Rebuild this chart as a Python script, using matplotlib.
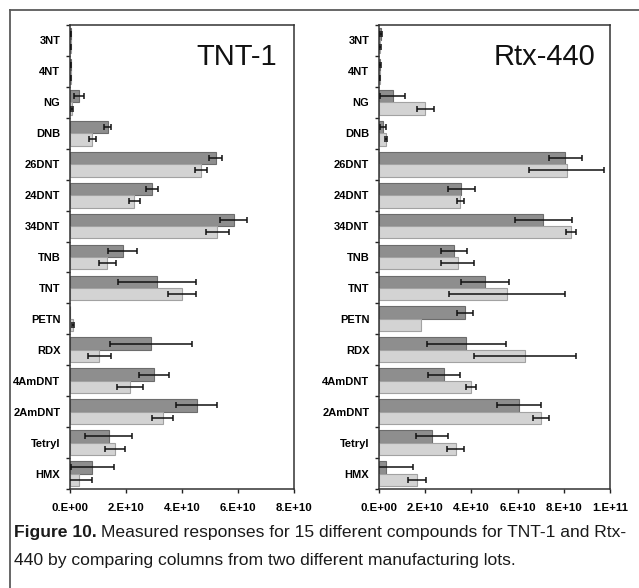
import matplotlib
matplotlib.use("Agg")
import matplotlib.pyplot as plt
import numpy as np
from matplotlib.lines import Line2D

compounds = ["3NT", "4NT", "NG", "DNB", "26DNT", "24DNT", "34DNT", "TNB",
             "TNT", "PETN", "RDX", "4AmDNT", "2AmDNT", "Tetryl", "HMX"]

# TNT-1 column: lot A (dark) and lot B (light), responses in units of 1e10
tnt1_lot_a = [0.03, 0.02, 0.32, 1.35, 5.20, 2.93, 5.85, 1.88, 3.12, 0.00, 2.89, 3.01, 4.52, 1.38, 0.80]
tnt1_lot_a_err = [0.02, 0.02, 0.18, 0.13, 0.22, 0.23, 0.48, 0.51, 1.39, 0.00, 1.46, 0.53, 0.72, 0.85, 0.77]
tnt1_lot_b = [0.02, 0.02, 0.07, 0.80, 4.68, 2.30, 5.26, 1.33, 4.01, 0.11, 1.05, 2.14, 3.31, 1.62, 0.33]
tnt1_lot_b_err = [0.02, 0.02, 0.05, 0.13, 0.21, 0.21, 0.41, 0.30, 0.50, 0.04, 0.40, 0.45, 0.37, 0.36, 0.44]

# Rtx-440 column: lot A (dark) and lot B (light), responses in units of 1e10
rtx_lot_a = [0.08, 0.05, 0.59, 0.17, 8.07, 3.57, 7.12, 3.25, 4.59, 3.71, 3.78, 2.80, 6.07, 2.30, 0.32]
rtx_lot_a_err = [0.03, 0.03, 0.55, 0.12, 0.70, 0.59, 1.24, 0.57, 1.04, 0.35, 1.71, 0.70, 0.95, 0.70, 1.17]
rtx_lot_b = [0.05, 0.03, 2.01, 0.32, 8.12, 3.52, 8.32, 3.41, 5.54, 1.81, 6.32, 3.97, 7.01, 3.32, 1.64]
rtx_lot_b_err = [0.03, 0.03, 0.37, 0.04, 1.62, 0.16, 0.21, 0.71, 2.52, 0.00, 2.22, 0.22, 0.33, 0.36, 0.38]

tnt1_ticks = [0, 2e10, 4e10, 6e10, 8e10]
tnt1_ticklabels = ["0.E+00", "2.E+10", "4.E+10", "6.E+10", "8.E+10"]
rtx_ticks = [0, 2e10, 4e10, 6e10, 8e10, 1e11]
rtx_ticklabels = ["0.E+00", "2.E+10", "4.E+10", "6.E+10", "8.E+10", "1.E+11"]

SCALE = 1e10
DARK, DARK_EDGE = "#8e8e8e", "#6c6c6c"
LIGHT, LIGHT_EDGE = "#d3d3d3", "#a2a2a2"

fig = plt.figure(figsize=(6.39, 5.88), dpi=100)
W, H = 639, 588


def panel(rect_px, a, a_err, b, b_err, ticks, ticklabels, xmax, title, title_x):
    x0, y0, x1, y1 = rect_px
    ax = fig.add_axes([x0 / W, 1 - y1 / H, (x1 - x0) / W, (y1 - y0) / H])
    y = np.arange(len(compounds))
    a = np.array(a) * SCALE
    b = np.array(b) * SCALE
    a_err = np.array(a_err) * SCALE
    b_err = np.array(b_err) * SCALE
    h = 0.4
    ax.barh(y - h / 2, a, height=h, color=DARK, edgecolor=DARK_EDGE, linewidth=0.8, zorder=2)
    ax.barh(y + h / 2, b, height=h, color=LIGHT, edgecolor=LIGHT_EDGE, linewidth=0.8, zorder=2)
    ekw = dict(fmt="none", ecolor="#111111", elinewidth=1.1, capsize=2.2, capthick=1.1, zorder=3)
    ma = a_err > 0
    mb = b_err > 0
    ax.errorbar(a[ma], (y - h / 2)[ma], xerr=a_err[ma], **ekw)
    ax.errorbar(b[mb], (y + h / 2)[mb], xerr=b_err[mb], **ekw)

    ax.set_ylim(len(compounds) - 0.5, -0.5)
    ax.set_xlim(0, xmax)
    ax.set_yticks(y)
    ax.set_yticklabels(compounds, fontsize=8, fontweight="bold", family="Liberation Sans")
    ax.tick_params(axis="y", which="major", length=0, pad=7)
    ax.set_yticks(np.arange(-0.5, len(compounds)), minor=True)
    ax.tick_params(axis="y", which="minor", length=3, width=1.0, color="#222222", direction="out")
    ax.set_xticks(ticks)
    ax.set_xticklabels(ticklabels, fontsize=8.2, fontweight="bold", family="Liberation Sans")
    ax.tick_params(axis="x", which="major", length=3, width=1.0, color="#222222", pad=7)
    for s in ax.spines.values():
        s.set_linewidth(1.1)
        s.set_color("#333333")
    ax.text(title_x, 0.962, title, transform=ax.transAxes, ha="right", va="top",
            fontsize=21, family="Liberation Sans", color="#111111")
    return ax


panel((70, 25, 294, 489), tnt1_lot_a, tnt1_lot_a_err, tnt1_lot_b, tnt1_lot_b_err,
      tnt1_ticks, tnt1_ticklabels, 8e10, "TNT-1", 0.925)
panel((379, 25, 610, 489), rtx_lot_a, rtx_lot_a_err, rtx_lot_b, rtx_lot_b_err,
      rtx_ticks, rtx_ticklabels, 1e11, "Rtx-440", 0.935)

# Page frame: top and left rules
fig.add_artist(Line2D([10 / W, 1.0], [1 - 10 / H, 1 - 10 / H], color="#5a5a5a", linewidth=1.3,
                      transform=fig.transFigure))
fig.add_artist(Line2D([10 / W, 10 / W], [1 - 10 / H, 0.0], color="#5a5a5a", linewidth=1.3,
                      transform=fig.transFigure))

# Caption
cap_font = ["Liberation Sans", "DejaVu Sans"]
cap_size = 12.6
line1_y = 1 - 537 / H
line2_y = 1 - 565 / H
bold = fig.text(14 / W, line1_y, "Figure 10.", fontsize=cap_size, fontweight="bold",
                family=cap_font, va="baseline", color="#1a1a1a")
fig.canvas.draw()
bb = bold.get_window_extent(renderer=fig.canvas.get_renderer())
fig.text((bb.x1 + 4) / W, line1_y,
         "Measured responses for 15 different compounds for TNT-1 and Rtx-",
         fontsize=cap_size, family=cap_font, va="baseline", color="#1a1a1a")
fig.text(14 / W, line2_y, "440 by comparing columns from two different manufacturing lots.",
         fontsize=cap_size, family=cap_font, va="baseline", color="#1a1a1a")

fig.savefig("out.png", dpi=100)
